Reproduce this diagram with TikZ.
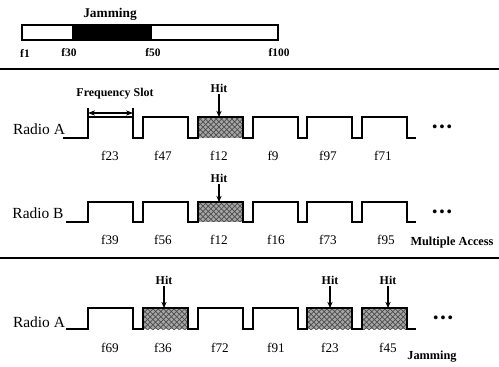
\documentclass[tikz,border=0pt]{standalone}
\usepackage{fontspec}
\setmainfont{Liberation Serif}
\usepackage{tikz}
\usetikzlibrary{positioning,arrows.meta,patterns}
\tikzset{
    wave/.style={line width=1.1pt, line join=miter},
    hatched/.style={fill=gray!70, postaction={pattern=crosshatch, pattern color=black!70}},
    flabel/.style={font=\fontsize{7.5}{8}\selectfont, inner sep=1pt},
    smalllbl/.style={font=\bfseries\fontsize{6.8}{8}\selectfont, inner sep=1pt},
    radiolbl/.style={font=\fontsize{8.8}{10}\selectfont, inner sep=1pt},
    dots/.style={font=\bfseries\fontsize{8}{9}\selectfont, inner sep=0pt},
    hitarrow/.style={-{Stealth[length=3.5pt,width=3pt]}, line width=0.6pt},
    sep/.style={line width=1.5pt}
}

\begin{document}
\begin{tikzpicture}[x=0.02cm, y=-0.02cm]
    \useasboundingbox (0,0) rectangle (499,367);

    % spectrum bar
    \fill[black] (72,25) rectangle (152,40);
    \draw[line width=1.1pt] (22,25) rectangle (278,40);
    \node[smalllbl, font=\bfseries\fontsize{7.6}{9}\selectfont] (jamtop) at (110,14) {Jamming};
    \node[flabel, font=\bfseries\fontsize{6.5}{8}\selectfont] (fone) at (25,53) {f1};
    \node[flabel, font=\bfseries\fontsize{6.5}{8}\selectfont] (fthirty) at (69,53) {f30};
    \node[flabel, font=\bfseries\fontsize{6.5}{8}\selectfont] (ffifty) at (153,53) {f50};
    \node[flabel, font=\bfseries\fontsize{6.5}{8}\selectfont] (fhundred) at (279,53) {f100};

    \coordinate (sepAl) at (0,69);
    \coordinate (sepAr) at (499,69);
    \coordinate (sepBl) at (0,258);
    \coordinate (sepBr) at (499,258);
    \draw[sep] (sepAl) -- (sepAr);
    \draw[sep] (sepBl) -- (sepBr);

    % Radio A, first row
    \fill[hatched] (198,117) rectangle (243,138);
    \draw[wave] (63,138) \foreach \s in {88,143,198,253,307,362} {
        -- (\s,138) -- (\s,117) -- (\s+45,117) -- (\s+45,138) } -- (416,138);
    \node[radiolbl] (radA) at (39,129) {Radio A};
    \node[dots] (dotsA) at (442,128) {\textbullet\,\textbullet\,\textbullet};
    \node[flabel] (la1) at (110,156) {f23};
    \node[flabel] (la2) at (163,156) {f47};
    \node[flabel] (la3) at (219,156) {f12};
    \node[flabel] (la4) at (273,156) {f9};
    \node[flabel] (la5) at (328,156) {f97};
    \node[flabel] (la6) at (383,156) {f71};
    \node[smalllbl] (hitA) at (219,88) {Hit};
    \coordinate (topA) at (219,117);
    \draw[hitarrow] (hitA) -- (topA);
    \node[smalllbl] (slot) at (115,94) {Frequency Slot};
    \coordinate (slotl) at (88,113);
    \coordinate (slotr) at (133,113);
    \draw[{Stealth[length=4pt,width=3pt]}-{Stealth[length=4pt,width=3pt]}, line width=0.6pt] (slotl) -- (slotr);
    \draw[line width=0.6pt] (88,108) -- (88,117) (133,108) -- (133,117);

    % Radio B
    \fill[hatched] (198,202) rectangle (243,222);
    \draw[wave] (66,222) \foreach \s in {88,143,198,253,307,362} {
        -- (\s,222) -- (\s,202) -- (\s+45,202) -- (\s+45,222) } -- (416,222);
    \node[radiolbl] (radB) at (38,213) {Radio B};
    \node[dots] (dotsB) at (442,213) {\textbullet\,\textbullet\,\textbullet};
    \node[flabel] (lb1) at (110,240) {f39};
    \node[flabel] (lb2) at (163,240) {f56};
    \node[flabel] (lb3) at (219,240) {f12};
    \node[flabel] (lb4) at (276,240) {f16};
    \node[flabel] (lb5) at (328,240) {f73};
    \node[flabel] (lb6) at (386,240) {f95};
    \node[smalllbl] (hitB) at (219,178) {Hit};
    \coordinate (topB) at (219,202);
    \draw[hitarrow] (hitB) -- (topB);
    \node[smalllbl, font=\bfseries\fontsize{7}{8}\selectfont] (multi) at (452,243) {Multiple Access};

    % Radio A, jammed
    \fill[hatched] (143,308) rectangle (188,329);
    \fill[hatched] (307,308) rectangle (352,329);
    \fill[hatched] (362,308) rectangle (407,329);
    \draw[wave] (66,329) \foreach \s in {88,143,198,253,307,362} {
        -- (\s,329) -- (\s,308) -- (\s+45,308) -- (\s+45,329) } -- (416,329);
    \node[radiolbl] (radC) at (39,322) {Radio A};
    \node[dots] (dotsC) at (443,319) {\textbullet\,\textbullet\,\textbullet};
    \node[flabel] (lc1) at (110,348) {f69};
    \node[flabel] (lc2) at (163,348) {f36};
    \node[flabel] (lc3) at (220,348) {f72};
    \node[flabel] (lc4) at (276,348) {f91};
    \node[flabel] (lc5) at (330,348) {f23};
    \node[flabel] (lc6) at (388,348) {f45};
    \node[smalllbl] (hitC1) at (164,280) {Hit};
    \node[smalllbl] (hitC2) at (330,280) {Hit};
    \node[smalllbl] (hitC3) at (388,280) {Hit};
    \coordinate (topC1) at (164,308);
    \coordinate (topC2) at (330,308);
    \coordinate (topC3) at (388,308);
    \draw[hitarrow] (hitC1) -- (topC1);
    \draw[hitarrow] (hitC2) -- (topC2);
    \draw[hitarrow] (hitC3) -- (topC3);
    \node[smalllbl, font=\bfseries\fontsize{7}{8}\selectfont] (jambot) at (432,357) {Jamming};

\end{tikzpicture}
\end{document}
